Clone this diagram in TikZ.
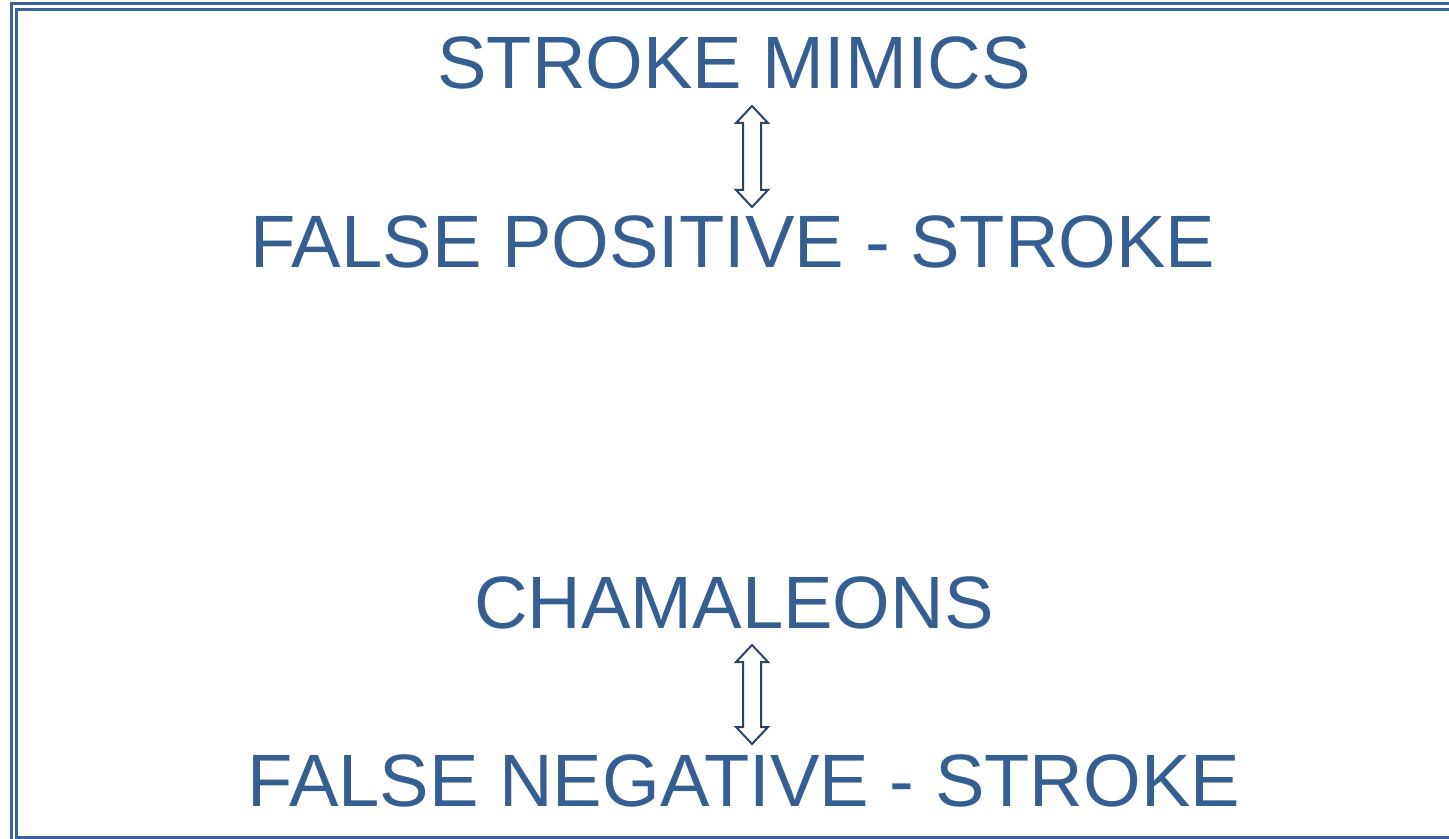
\documentclass[tikz,border=0pt]{standalone}
\usepackage{fontspec}
\setmainfont{Liberation Sans}
\definecolor{txtblue}{HTML}{365F91}
\definecolor{framebl}{HTML}{3A659A}
\definecolor{arrline}{HTML}{2A4466}
\tikzset{
  label/.style={text=txtblue, font=\fontsize{37.1pt}{40pt}\selectfont, inner sep=0pt, anchor=base},
  framestyle/.style={draw=framebl, line width=1.5pt},
  dblarrow/.style={draw=arrline, fill=white, line width=1pt, line join=miter}
}
\begin{document}
\begin{tikzpicture}[x=0.5pt,y=-0.5pt]
\useasboundingbox (0,0) rectangle (1449,839);
\clip (0,0) rectangle (1449,839);
\draw[framestyle] (11,4) rectangle (1462,845);
\draw[framestyle] (16,10) rectangle (1456,837);
\node[label] (mimics) at (734,89) {STROKE MIMICS};
\node[label] (fpos) at (733,268) {FALSE POSITIVE - STROKE};
\node[label] (cham) at (734,628) {CHAMALEONS};
\node[label] (fneg) at (744,806) {FALSE NEGATIVE - STROKE};
\draw[dblarrow] (752,106) -- (768,123) -- (761,123) -- (761,190) -- (768,190) -- (752,207) -- (736,190) -- (743,190) -- (743,123) -- (736,123) -- cycle;
\draw[dblarrow] (752,645) -- (768,662) -- (761,662) -- (761,727) -- (768,727) -- (752,744) -- (736,727) -- (743,727) -- (743,662) -- (736,662) -- cycle;
\end{tikzpicture}
\end{document}
